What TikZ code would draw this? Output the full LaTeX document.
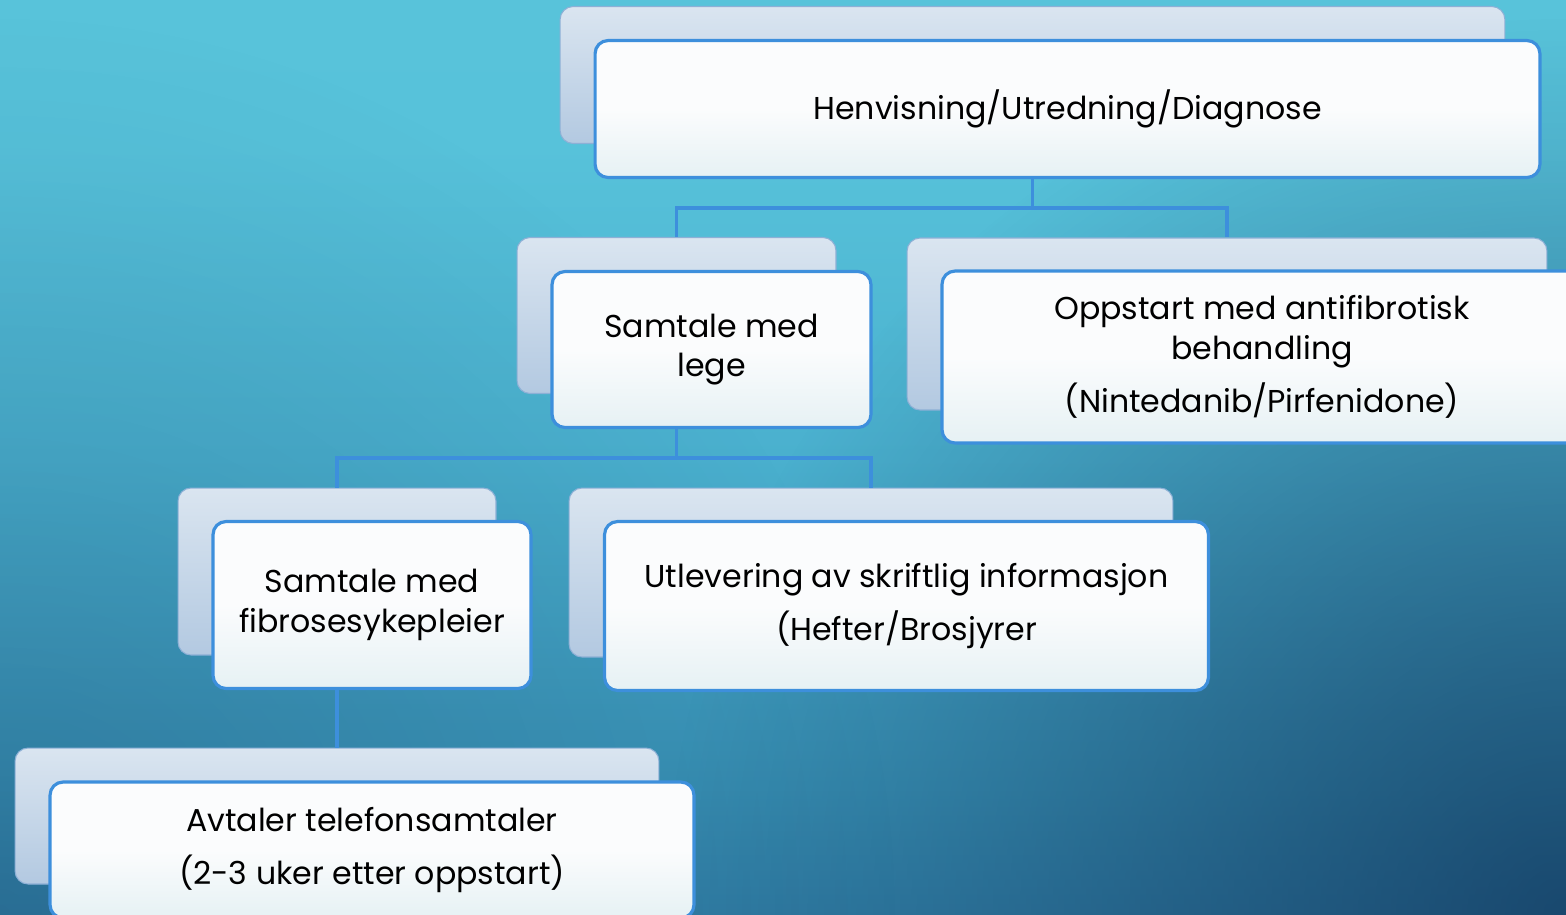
\documentclass[tikz,border=0pt]{standalone}
\usepackage{fontspec}
\setmainfont{Poppins}
\usetikzlibrary{calc,fadings}

\definecolor{bg0}{HTML}{1F5078}
\definecolor{bg1}{HTML}{2A6E98}
\definecolor{bg2}{HTML}{3890B4}
\definecolor{bg3}{HTML}{4AB0CE}
\definecolor{bg4}{HTML}{57C2DA}
\definecolor{bg5}{HTML}{5BC6DC}
\definecolor{bgdark}{HTML}{0C2A50}
\definecolor{linkblue}{HTML}{3D8FDC}
\definecolor{backtop}{HTML}{DAE5F0}
\definecolor{backbot}{HTML}{B3C9E1}
\definecolor{backline}{HTML}{8DB0D6}
\definecolor{fronttop}{HTML}{FBFCFD}
\definecolor{frontbot}{HTML}{E6F1F4}

\pgfdeclareverticalshading{bgshade}{100bp}{color(0bp)=(bg0); color(17bp)=(bg1); color(32bp)=(bg2); color(50bp)=(bg3); color(67bp)=(bg4); color(100bp)=(bg5)}
\tikzfading[name=brfade, inner color=transparent!35, outer color=transparent!100]
\tikzfading[name=blfade, inner color=transparent!78, outer color=transparent!100]

\begin{document}
\begin{tikzpicture}[x=0.02cm, y=-0.02cm]
\tikzstyle{backbox}=[draw=backline, line width=0.6pt, top color=backtop, bottom color=backbot, rounded corners=0.26cm, inner sep=0pt]
\tikzstyle{frontbox}=[draw=linkblue, line width=1.8pt, top color=fronttop, bottom color=frontbot, middle color=fronttop, rounded corners=0.26cm, inner sep=0pt, align=center, text=black, font={\fontsize{18}{22.7}\selectfont}]
\tikzstyle{link}=[draw=linkblue, line width=2pt]

\useasboundingbox (0,0) rectangle (1566,914);
\clip (0,0) rectangle (1566,914);
\shade[shading=bgshade] (0,0) rectangle (1566,914);
\fill[bgdark, path fading=brfade] (1566,914) circle (900);
\fill[bgdark, path fading=blfade] (0,914) circle (900);

% back boxes
\node[backbox, minimum width=18.9cm, minimum height=2.74cm] (hb) at (1032.5,75) {};
\node[backbox, minimum width=6.38cm, minimum height=3.12cm] (sb) at (676.5,315.5) {};
\node[backbox, minimum width=12.8cm, minimum height=3.44cm] (ob) at (1227,324) {};
\node[backbox, minimum width=6.36cm, minimum height=3.34cm] (fb) at (337,571.5) {};
\node[backbox, minimum width=12.08cm, minimum height=3.38cm] (ub) at (871,572.5) {};
\node[backbox, minimum width=12.88cm, minimum height=2.72cm] (ab) at (337,816) {};

% connectors
\coordinate (l1) at (0,208);
\coordinate (l2) at (0,458);
\draw[link] (hb.south) -- (hb.south |- l1) -| (sb.north);
\draw[link] (hb.south |- l1) -| (ob.north);
\draw[link] (sb.south) -- (sb.south |- l2) -| (fb.north);
\draw[link] (sb.south |- l2) -| (ub.north);
\draw[link] (fb.south) -- (ab.north);

% front boxes
\node[frontbox, minimum width=18.9cm, minimum height=2.74cm] (h) at (1067.5,109) {Henvisning/Utredning/Diagnose};
\node[frontbox, minimum width=6.38cm, minimum height=3.12cm] (s) at (711.5,349.5) {Samtale med\\lege};
\node[frontbox, minimum width=12.8cm, minimum height=3.44cm] (o) at (1262,357) {Oppstart med antifibrotisk\\behandling\\[7.9pt](Nintedanib/Pirfenidone)};
\node[frontbox, minimum width=6.36cm, minimum height=3.34cm] (f) at (372,605) {Samtale med\\fibrosesykepleier};
\node[frontbox, minimum width=12.08cm, minimum height=3.38cm] (u) at (906.5,606) {Utlevering av skriftlig informasjon\\[7.9pt](Hefter/Brosjyrer};
\node[frontbox, minimum width=12.88cm, minimum height=2.72cm] (a) at (372,850) {Avtaler telefonsamtaler\\[7.9pt](2-3 uker etter oppstart)};

\end{tikzpicture}
\end{document}
